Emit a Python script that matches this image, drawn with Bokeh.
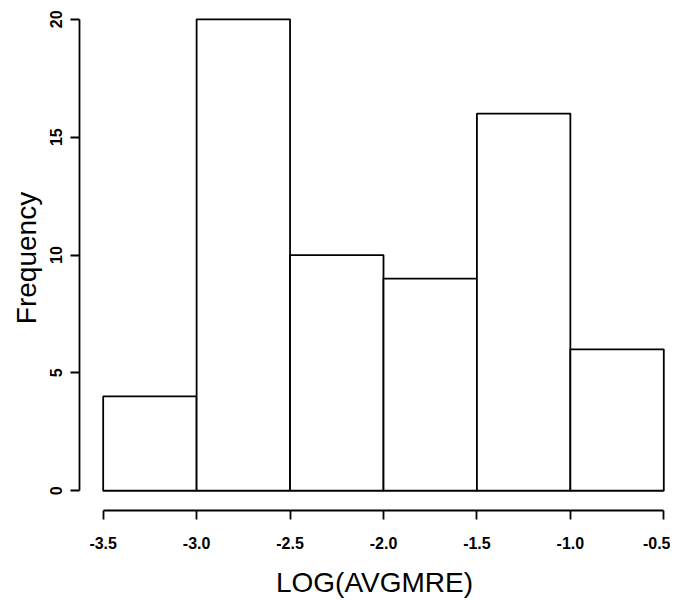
from bokeh.plotting import figure
from bokeh.models import Range1d, FixedTicker
from bokeh.embed import file_html
from bokeh.resources import INLINE

# histogram data
bin_left = [-3.5, -3.0, -2.5, -2.0, -1.5, -1.0]
bin_right = [-3.0, -2.5, -2.0, -1.5, -1.0, -0.5]
counts = [4, 20, 10, 9, 16, 6]
x_ticks = [-3.5, -3.0, -2.5, -2.0, -1.5, -1.0, -0.5]
y_ticks = [0, 5, 10, 15, 20]

p = figure(width=670, height=600, output_backend="svg", toolbar_location=None,
           x_range=Range1d(-3.6267, -0.4695), y_range=Range1d(-0.8386, 20.587),
           min_border_left=79, min_border_top=5, min_border_bottom=84, min_border_right=1)

p.quad(left=bin_left, right=bin_right, top=counts, bottom=[0] * len(counts),
       fill_color="white", line_color="black", line_width=1.8)

p.grid.visible = False
p.outline_line_color = None
p.background_fill_color = "white"
p.border_fill_color = "white"

for ax in (p.xaxis[0], p.yaxis[0]):
    ax.axis_line_width = 1.8
    ax.axis_line_color = "black"
    ax.major_tick_line_width = 1.8
    ax.major_tick_line_color = "black"
    ax.minor_tick_line_color = None
    ax.major_tick_in = 0
    ax.major_tick_out = 9
    ax.major_label_text_font = "Liberation Sans"
    ax.major_label_text_color = "black"
    ax.major_label_text_font_size = "16px"
    ax.major_label_text_font_style = "bold"
    ax.axis_label_text_font = "Liberation Sans"
    ax.axis_label_text_font_style = "normal"
    ax.axis_label_text_color = "black"
    ax.axis_label_text_font_size = "28px"

p.xaxis.ticker = FixedTicker(ticks=x_ticks)
p.xaxis.bounds = (-3.5, -0.5)
p.xaxis.major_label_overrides = {t: f"{t:.1f}" for t in x_ticks}
p.xaxis.major_label_standoff = 17
p.xaxis.axis_label = "LOG(AVGMRE)"
p.xaxis.axis_label_standoff = 15

p.yaxis.ticker = FixedTicker(ticks=y_ticks)
p.yaxis.bounds = (0, 20)
p.yaxis.major_label_orientation = "vertical"
p.yaxis.major_label_standoff = 8
p.yaxis.axis_label = "Frequency"
p.yaxis.axis_label_standoff = 6

open("out.html", "w").write(file_html(p, INLINE))
